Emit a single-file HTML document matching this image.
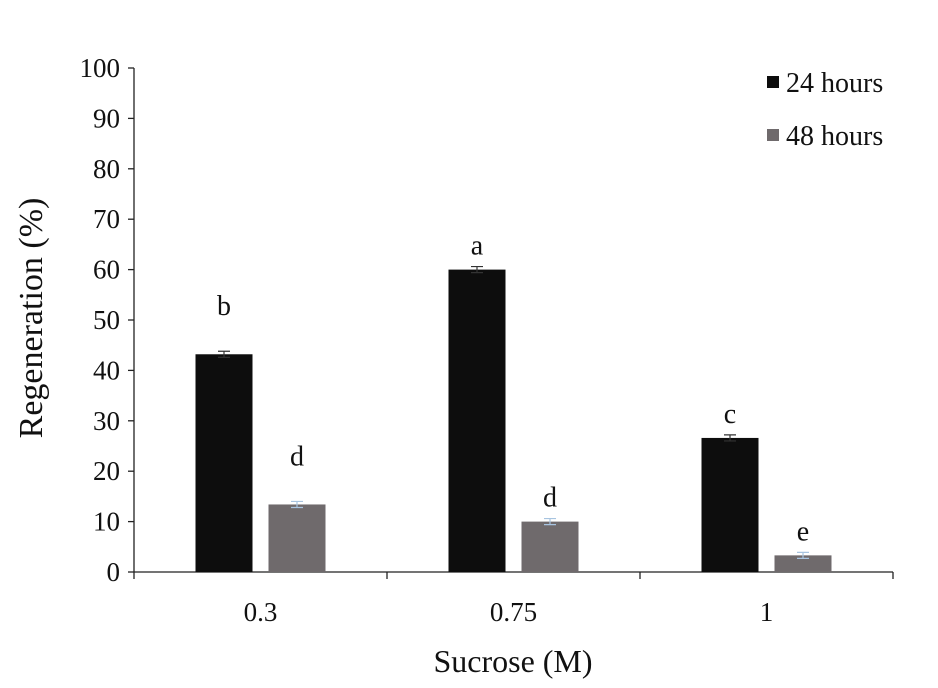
<!DOCTYPE html>
<html><head><meta charset="utf-8"><style>
body{margin:0;background:#fff}
svg{display:block;font-family:"Liberation Serif",serif}
</style></head><body>
<svg id="chart" width="938" height="688">
<g id="axes"></g><g id="bars"></g>
<text x="0" y="0" transform="translate(42,318) rotate(-90)" text-anchor="middle" font-size="34" fill="#111">Regeneration (%)</text>
<text x="513" y="672" text-anchor="middle" font-size="32" fill="#111">Sucrose (M)</text>
<g>
<rect x="767" y="76" width="12" height="12" fill="#0d0d0d"/>
<text x="786" y="92" font-size="28" fill="#111">24 hours</text>
<rect x="767" y="129" width="12" height="12" fill="#6f6a6c"/>
<text x="786" y="145" font-size="28" fill="#111">48 hours</text>
</g>
</svg>
<script>
const categories=["0.3","0.75","1"];
const series24=[43.2,60,26.6];
const series48=[13.4,10,3.3];
const err24=[0.6,0.6,0.6];
const err48=[0.6,0.6,0.6];
const letters24=["b","a","c"];
const letters48=["d","d","e"];
const yTicks=[0,10,20,30,40,50,60,70,80,90,100];
const NS="http://www.w3.org/2000/svg";
const x0=134,x1=893,y0=572,yTop=68;
const letterLift=[24,0,0];
const y=v=>y0-(v/100)*(y0-yTop);
const gw=(x1-x0)/categories.length;
function el(t,a,p){const e=document.createElementNS(NS,t);for(const k in a)e.setAttribute(k,a[k]);p.appendChild(e);return e;}
const ax=document.getElementById('axes'),bg=document.getElementById('bars');
const yl=el('line',{x1:x0,x2:x0,y1:yTop,y2:y0,stroke:'#222','stroke-width':1.3},ax);


const xl=el('line',{x1:x0,x2:x1,y1:y0,y2:y0,stroke:'#222','stroke-width':1.3},ax);


yTicks.forEach(v=>{
 const t=el('line',{x1:x0-6,x2:x0,y1:y(v),y2:y(v),stroke:'#222','stroke-width':1.3},ax);
 
 
 const l=el('text',{x:x0-14,y:y(v)+9,'text-anchor':'end','font-size':27,fill:'#111'},ax);
 l.textContent=v;
 
 
});
for(let i=0;i<=categories.length;i++){
 const t=el('line',{x1:x0+gw*i,x2:x0+gw*i,y1:y0,y2:y0+7,stroke:'#222','stroke-width':1.3},ax);
 
 
}
const bw=57;
categories.forEach((c,i)=>{
 const cx=x0+gw*(i+0.5);
 const l=el('text',{x:cx,y:621,'text-anchor':'middle','font-size':27,fill:'#111'},ax);
 l.textContent=c;
 
 
 [[series24,err24,letters24,'#0d0d0d',cx-bw-8,'24h','#333'],[series48,err48,letters48,'#6f6a6c',cx+8,'48h','#a8c4e0']].forEach(s=>{
  const v=s[0][i],bx=s[4];
  const r=el('rect',{x:bx,y:y(v),width:bw,height:y0-y(v),fill:s[3]},bg);
  
  
  const e=s[1][i],mx=bx+bw/2;
  const eb=el('path',{d:`M${mx-6},${y(v+e)}H${mx+6}M${mx},${y(v+e)}V${y(v-e)}M${mx-6},${y(v-e)}H${mx+6}`,stroke:s[6],'stroke-width':1.2,fill:'none'},bg);
  
  
  const t=el('text',{x:mx,y:y(v+e)-12-letterLift[i],'text-anchor':'middle','font-size':28,fill:'#111'},bg);
  t.textContent=s[2][i];
  
  
 });
});
</script>
</body></html>
